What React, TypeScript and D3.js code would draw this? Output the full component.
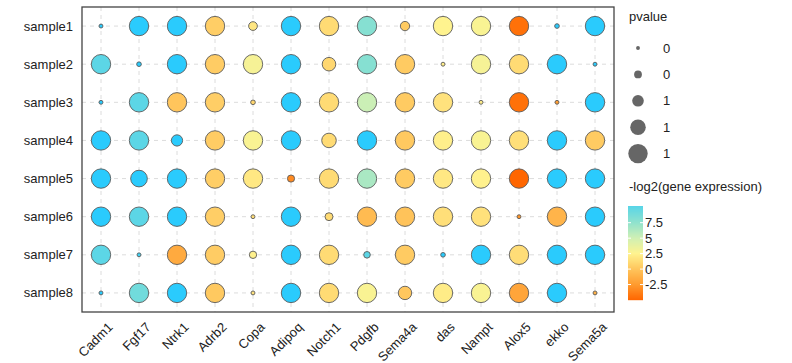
import React from 'react'
import * as d3 from 'd3'

const genes = ['Cadm1', 'Fgf17', 'Ntrk1', 'Adrb2', 'Copa', 'Adipoq', 'Notch1', 'Pdgfb', 'Sema4a', 'das', 'Nampt', 'Alox5', 'ekko', 'Sema5a']
const samples = ['sample1', 'sample2', 'sample3', 'sample4', 'sample5', 'sample6', 'sample7', 'sample8']

// -log2(gene expression), one row per sample
const expression = [
    [12, 12, 12, 0.5, 1.8, 12, 1.2, 8, 0.3, 2.5, 2.8, -4.5, 12, 12],
    [10, 12, 12, 0.4, 3, 12, 1, 8, 0.3, 2.2, 3, 1.2, 12, 12],
    [12, 10, 0, 0.5, 0.9, 12, 1.2, 5.2, 0.3, 1.6, 2.2, -4.5, -2.3, 12],
    [12, 10, 12, 0.4, 2.8, 12, 1.2, 12, 0.2, 2.3, 2.8, 1.4, 12, 0.3],
    [12, 12, 12, 0.5, 1.9, -3.3, 1.2, 6.5, 0.3, 1.9, 2.4, -5, 12, 12],
    [12, 10, 12, 0.5, 1.3, 12, 1.2, -0.6, -0.1, 1.4, 1.5, -2.8, -1, 12],
    [10, 11, -1.6, 0.4, 2.4, 12, 1.2, 10, 0.3, 12, 12, 1.3, 12, 12],
    [12, 9, 12, 0.2, 1.6, 12, 1.2, 2.8, 0.1, 2.1, 2.8, -1.9, 12, -1.2],
]

// pvalue, one row per sample
const pvalues = [
    [0.2, 1, 1, 1, 0.45, 1, 1, 1, 0.48, 1, 1, 1, 0.24, 1],
    [1, 0.24, 1, 1, 1, 1, 0.7, 1, 1, 0.2, 1, 1, 1, 0.2],
    [0.2, 1, 1, 1, 0.24, 1, 1, 1, 1, 1, 0.2, 1, 0.2, 1],
    [1, 1, 0.58, 1, 1, 1, 0.75, 1, 1, 1, 1, 1, 1, 1],
    [1, 0.86, 1, 1, 1, 0.37, 1, 1, 1, 1, 1, 1, 1, 1],
    [1, 1, 1, 1, 0.2, 1, 0.41, 1, 1, 1, 1, 0.2, 1, 1],
    [1, 0.2, 1, 1, 0.38, 1, 1, 0.34, 1, 0.24, 1, 1, 1, 1],
    [0.2, 1, 1, 1, 0.2, 1, 1, 1, 0.69, 1, 1, 1, 1, 0.2],
]

const sizeBreaks = [0.2, 0.4, 0.6, 0.8, 1.0]
const colorBreaks = [-2.5, 0, 2.5, 5, 7.5]
const colorStops = [-5, -2.5, 0, 2.5, 5, 7.5, 10, 12]
const colorRange = ['#FF6600', '#FF9B2F', '#FFC55C', '#FFF38F', '#D0F0B4', '#90E2CD', '#5CD6E6', '#2ACBFD']

const font = 'Liberation Sans, Arial, sans-serif'

const App = () => {
    const width = 792
    const height = 363
    const panel = { left: 82, right: 614, top: 7, bottom: 312 }

    const x = d3.scaleBand().domain(genes).range([panel.left, panel.right])
    const y = d3.scaleBand().domain(samples).range([panel.top, panel.bottom])
    const r = d3.scaleLinear().domain([0, 1]).range([0, 9.7])
    const color = d3.scaleLinear<string>().domain(colorStops).range(colorRange).interpolate(d3.interpolateRgb).clamp(true)

    const cells: { gene: string, sample: string, value: number, p: number }[] = []
    samples.forEach((s, i) => {
        genes.forEach((g, j) => {
            cells.push({ gene: g, sample: s, value: expression[i][j], p: pvalues[i][j] })
        })
    })

    // colourbar
    const bar = { x: 628, w: 15, top: 206, bottom: 300 }
    const barScale = d3.scaleLinear().domain([-5, 10.2]).range([bar.bottom, bar.top])
    const barSteps = d3.range(bar.top, bar.bottom, 1)

    const cx = (g: string) => (x(g) as number) + x.bandwidth() / 2
    const cy = (s: string) => (y(s) as number) + y.bandwidth() / 2

    return (
        <svg width={width} height={height} style={{ position: 'absolute', left: 0, top: 0 }} fontFamily={font}>
            <rect x={0} y={0} width={width} height={height} fill="#fff" />
            <g stroke="#dcdcdc" strokeWidth={1} strokeDasharray="4,4">
                {genes.map(g => (
                    <line key={g} x1={cx(g)} x2={cx(g)} y1={panel.top} y2={panel.bottom} />
                ))}
                {samples.map(s => (
                    <line key={s} x1={panel.left} x2={panel.right} y1={cy(s)} y2={cy(s)} />
                ))}
            </g>
            {cells.map(c => (
                <circle key={c.gene + c.sample} cx={cx(c.gene)} cy={cy(c.sample)} r={r(c.p)}
                    fill={color(c.value)} stroke="#5a5a5a" strokeWidth={0.9} />
            ))}
            <rect x={panel.left} y={panel.top} width={panel.right - panel.left} height={panel.bottom - panel.top}
                fill="none" stroke="#444" strokeWidth={1.3} />

            {samples.map(s => (
                <text key={s} x={panel.left - 9} y={cy(s)} dy="0.35em" textAnchor="end" fontSize={13} fill="#222">{s}</text>
            ))}
            {genes.map(g => (
                <text key={g} transform={`translate(${cx(g) + 12.5},${panel.bottom + 16}) rotate(-45)`}
                    textAnchor="end" fontSize={13} fill="#222">{g}</text>
            ))}

            <text x={629} y={21} fontSize={13} fill="#222">pvalue</text>
            {sizeBreaks.map((b, i) => (
                <g key={b} transform={`translate(638,${48 + i * 26.4})`}>
                    <circle r={r(b)} fill="#666" />
                    <text x={25} dy="0.35em" fontSize={13} fill="#222">{d3.format('.0f')(b)}</text>
                </g>
            ))}

            <text x={629} y={191} fontSize={13} fill="#222">-log2(gene expression)</text>
            {barSteps.map(v => (
                <rect key={v} x={bar.x} y={v} width={bar.w} height={1.2} fill={color(barScale.invert(v + 0.5))} />
            ))}
            {colorBreaks.map(b => (
                <g key={b}>
                    <line x1={bar.x} x2={bar.x + 3} y1={barScale(b)} y2={barScale(b)} stroke="#fff" strokeWidth={1} />
                    <line x1={bar.x + bar.w - 3} x2={bar.x + bar.w} y1={barScale(b)} y2={barScale(b)} stroke="#fff" strokeWidth={1} />
                    <text x={bar.x + bar.w + 2} y={barScale(b)} dy="0.35em" fontSize={13} fill="#222">{String(b)}</text>
                </g>
            ))}
        </svg>
    )
}

export default App
